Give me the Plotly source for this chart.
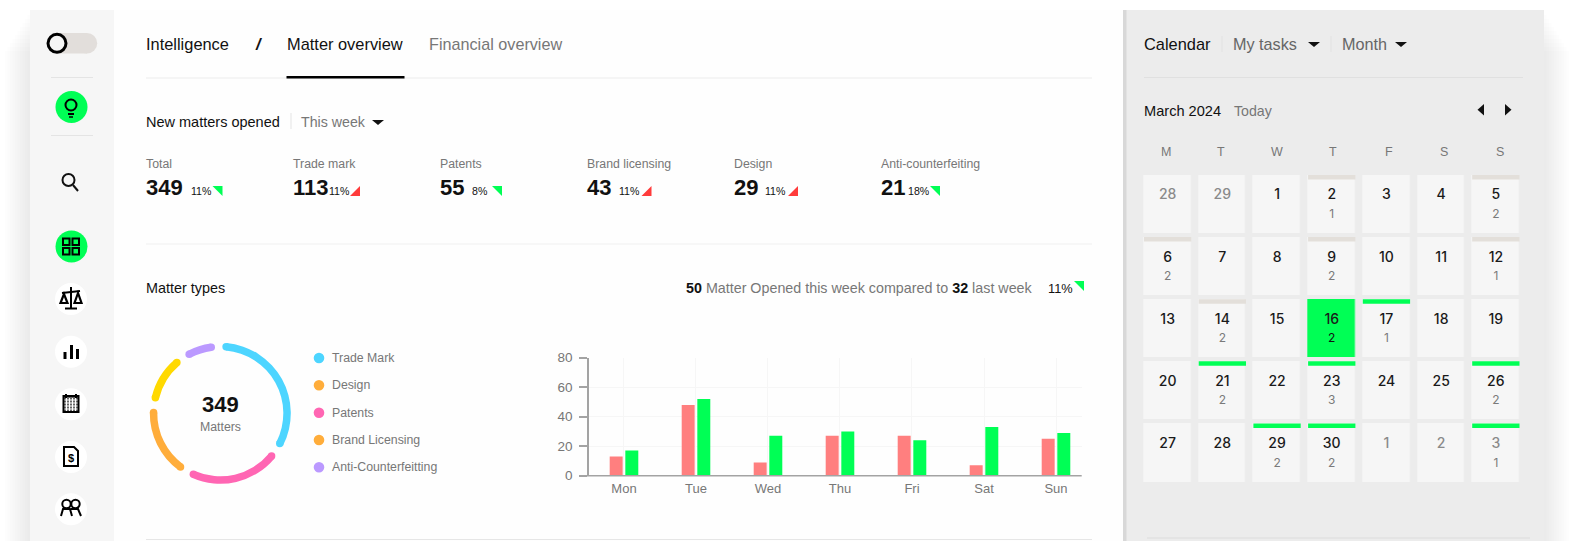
import numpy as np
import plotly.graph_objects as go

W, H = 1574, 541
FONT = "Liberation Sans"
INK, GREY, LIGHT = "#111111", "#777777", "#e8e8e8"
GREEN, RED_T, RED_B = "#00ff55", "#ff3b3b", "#ff7f7f"

# ---------- data ----------
DAYS = ["Mon", "Tue", "Wed", "Thu", "Fri", "Sat", "Sun"]
LAST_WEEK = [13, 48, 9, 27, 27, 7, 25]
THIS_WEEK = [17, 52, 27, 30, 24, 33, 29]
Y_TICKS = [0, 20, 40, 60, 80]

RING_LABELS = ["Trade Mark", "Patents", "Design", "Brand Licensing", "Anti-Counterfeitting"]
RING_VALUES = [112, 74, 54, 36, 20]
RING_COLORS = ["#4dd5ff", "#ff66b3", "#ffad3b", "#ffd900", "#bb99ff"]
RING_GAP = 12.8
RING_START = 5

LEGEND_LABELS = ["Trade Mark", "Design", "Patents", "Brand Licensing", "Anti-Counterfeitting"]
LEGEND_COLORS = ["#4dd5ff", "#ffad3b", "#ff66b3", "#ffad3b", "#bb99ff"]

KPI_LABELS = ["Total", "Trade mark", "Patents", "Brand licensing", "Design", "Anti-counterfeiting"]
KPI_VALUES = ["349", "113", "55", "43", "29", "21"]
KPI_PCTS = ["11%", "11%", "8%", "11%", "11%", "18%"]
KPI_UP = [True, False, True, False, False, True]

WEEKDAYS = ["M", "T", "W", "T", "F", "S", "S"]
CAL_DAYS = [[28, 29, 1, 2, 3, 4, 5],
            [6, 7, 8, 9, 10, 11, 12],
            [13, 14, 15, 16, 17, 18, 19],
            [20, 21, 22, 23, 24, 25, 26],
            [27, 28, 29, 30, 1, 2, 3]]
CAL_COUNTS = [[0, 0, 0, 1, 0, 0, 2],
              [2, 0, 0, 2, 0, 0, 1],
              [0, 2, 0, 2, 1, 0, 0],
              [0, 2, 0, 3, 0, 0, 2],
              [0, 0, 2, 2, 0, 0, 1]]
CAL_MUTED = [[1, 1, 0, 0, 0, 0, 0],
             [0, 0, 0, 0, 0, 0, 0],
             [0, 0, 0, 0, 0, 0, 0],
             [0, 0, 0, 0, 0, 0, 0],
             [0, 0, 0, 0, 1, 1, 1]]
CAL_TODAY = [[0, 0, 0, 0, 0, 0, 0],
             [0, 0, 0, 0, 0, 0, 0],
             [0, 0, 0, 1, 0, 0, 0],
             [0, 0, 0, 0, 0, 0, 0],
             [0, 0, 0, 0, 0, 0, 0]]
# 0 none, 1 beige strip, 2 green strip
CAL_STRIP = [[0, 0, 0, 1, 0, 0, 1],
             [1, 0, 0, 1, 0, 0, 1],
             [0, 1, 0, 0, 2, 0, 0],
             [0, 2, 0, 2, 0, 0, 2],
             [0, 0, 2, 2, 0, 0, 2]]


def px(x):
    return x / W


def py(y):
    return 1 - y / H


shapes, notes = [], []


def rect(x0, y0, x1, y1, color, opacity=1.0, layer="below"):
    shapes.append(dict(type="rect", xref="paper", yref="paper", x0=px(x0), x1=px(x1),
                       y0=py(y1), y1=py(y0), fillcolor=color, opacity=opacity,
                       line_width=0, layer=layer))


def line(x0, y0, x1, y1, color=LIGHT, width=1.0, layer="below"):
    shapes.append(dict(type="line", xref="paper", yref="paper", x0=px(x0), x1=px(x1),
                       y0=py(y0), y1=py(y1), line=dict(color=color, width=width), layer=layer))


def circle(cx, cy, r, fill, stroke=None, width=0, layer="below"):
    shapes.append(dict(type="circle", xref="paper", yref="paper", x0=px(cx - r), x1=px(cx + r),
                       y0=py(cy + r), y1=py(cy - r), fillcolor=fill,
                       line=dict(color=stroke or fill, width=width), layer=layer))


def poly(points, color, closed=True, width=0, layer="above", fill=True):
    d = "M" + " L".join(f"{px(x):.5f},{py(y):.5f}" for x, y in points) + (" Z" if closed else "")
    shapes.append(dict(type="path", xref="paper", yref="paper", path=d,
                       fillcolor=color if fill else "rgba(0,0,0,0)",
                       line=dict(color=color, width=width), layer=layer))


def text(x, y, s, size=14, color=INK, anchor="left", family=FONT):
    notes.append(dict(xref="paper", yref="paper", x=px(x), y=py(y), text=s, showarrow=False,
                      xanchor=anchor, yanchor="middle", align=anchor,
                      font=dict(family=family, size=size, color=color),
                      borderpad=0, borderwidth=0))


def caret(cx, cy, color="#111111"):
    poly([(cx - 6, cy - 2.5), (cx + 6, cy - 2.5), (cx, cy + 2.5)], color)


# ---------- page panels and soft shadows ----------
for i in range(10):
    rect(30 - 2.5 * (i + 1), 15 + i * 4, 30, H, "#000000", 0.006)
    rect(1544, 15 + i * 4, 1544 + 2.5 * (i + 1), H, "#000000", 0.006)
rect(114, 10, 1123, H, "#fefefe")
rect(30, 10, 114, H, "#f6f6f6")
rect(1123, 10, 1544, H, "#ececec")
rect(1123, 10, 1126.5, H, "#d8d8d8")

# ---------- sidebar ----------
rect(57, 33, 87, 53.5, "#e2dedb")
circle(87, 43.3, 10.2, "#e2dedb")
circle(57, 43.3, 9, "#f6f6f6", "#000000", 3)
line(51, 77.5, 93, 77.5, "#e4e4e4")
line(51, 135.5, 93, 135.5, "#e4e4e4")
circle(71.5, 107, 16, GREEN)
circle(71, 105, 5.5, "rgba(0,0,0,0)", "#000000", 2, "above")
line(68, 114, 74, 114, "#000000", 2, "above")
line(69, 117, 73, 117, "#000000", 1.5, "above")
circle(68.5, 180, 6, "rgba(0,0,0,0)", "#111111", 2, "above")
line(73, 185, 78, 191, "#111111", 2, "above")
circle(71.5, 246.5, 16, GREEN)
for dx, dy in [(-8, -8), (1.5, -8), (-8, 1.5), (1.5, 1.5)]:
    shapes.append(dict(type="rect", xref="paper", yref="paper", x0=px(71 + dx), x1=px(71 + dx + 6.5),
                       y0=py(246.5 + dy + 6.5), y1=py(246.5 + dy), fillcolor="rgba(0,0,0,0)",
                       line=dict(color="#000000", width=2), layer="above"))
for cy in [299, 351.7, 404.3, 457, 509.3]:
    circle(71, cy, 16, "#ffffff")
# scales
line(71, 287, 71, 308, "#000000", 2, "above")
line(65, 308.5, 77, 308.5, "#000000", 2, "above")
line(62, 293, 80, 291, "#000000", 2, "above")
poly([(64, 294), (60.5, 303), (67.5, 303)], "#000000", True, 2.2, fill=False)
poly([(78, 293), (74.5, 303), (81.5, 303)], "#000000", True, 2.2, fill=False)
# bars
rect(63.5, 352, 66.5, 359, "#000000", layer="above")
rect(70, 345, 73, 359, "#000000", layer="above")
rect(76, 349, 79, 359, "#000000", layer="above")
# calendar
shapes.append(dict(type="rect", xref="paper", yref="paper", x0=px(63.5), x1=px(78.5), y0=py(412), y1=py(396),
                   fillcolor="#666666", line=dict(color="#000000", width=2), layer="above"))
line(66, 394, 66, 398, "#000000", 2, "above")
line(76, 394, 76, 398, "#000000", 2, "above")
for gx in [66.5, 69.5, 72.5, 75.5]:
    line(gx, 398, gx, 411, "#ffffff", 1, "above")
for gy in [400, 403, 406, 409]:
    line(64.5, gy, 77.5, gy, "#ffffff", 1, "above")
# invoice
poly([(64, 447), (74, 447), (78, 451), (78, 466), (64, 466)], "#000000", True, 2, fill=False)
text(71, 458, "<b>$</b>", 11, "#000000", "center")
# people
circle(66.5, 504, 4.2, "rgba(0,0,0,0)", "#000000", 2, "above")
circle(75.5, 504, 4.2, "rgba(0,0,0,0)", "#000000", 2, "above")
poly([(61, 516), (63, 509), (70, 509), (72, 516)], "#000000", False, 2, fill=False)
poly([(71, 509), (78, 509), (81, 516)], "#000000", False, 2, fill=False)

# ---------- tabs ----------
text(146, 44, "Intelligence", 16.4)
text(254.5, 44, "<b><i>/</i></b>", 16.5)
text(287, 44, "Matter overview", 16.4)
text(428.5, 44, "Financial overview", 16.2, GREY)
line(146, 78, 1092, 78, "#ececec")
rect(286.5, 76, 404.5, 78.5, "#000000")
text(146, 121.5, "New matters opened", 14.5)
line(291, 113, 291, 129, "#e4e4e4")
text(301, 121.5, "This week", 14.2, GREY)
caret(378, 122.5)

# ---------- KPI row ----------
KPI_X = [146, 293, 440, 587, 734, 881]
KPI_PCT_X = [191, 328.5, 471.5, 618.5, 765, 908.5]
KPI_TRI_X = [212.5, 350, 492, 641.5, 788, 930]
for x, label, val, pct, pct_x, tri_x, up in zip(KPI_X, KPI_LABELS, KPI_VALUES, KPI_PCTS, KPI_PCT_X, KPI_TRI_X, KPI_UP):
    text(x, 164.5, label, 12.3, GREY)
    text(x, 188, f"<b>{val}</b>", 22, INK)
    text(pct_x, 191, pct, 10.6, INK)
    if up:
        poly([(tri_x, 186), (tri_x + 10, 186), (tri_x + 10, 196)], GREEN)
    else:
        poly([(tri_x, 196), (tri_x + 10, 186), (tri_x + 10, 196)], RED_T)
line(146, 244, 1092, 244, "#f0f0f0")
line(146, 539.5, 1092, 539.5, "#e6e6e6")

# ---------- matter types heading ----------
text(146, 288, "Matter types", 14.4)
text(686, 288, "<b style='color:#111'>50</b> Matter Opened this week compared to "
               "<b style='color:#111'>32</b> last week", 14.3, GREY)
text(1048, 288, "11%", 12.8, INK)
poly([(1074, 281), (1084, 281), (1084, 291)], GREEN)

# ---------- legend ----------
LEGEND_Y = [358, 385.3, 412.7, 440, 467.3]
for lab, col, y in zip(LEGEND_LABELS, LEGEND_COLORS, LEGEND_Y):
    circle(319, y, 5.3, col)
    text(332, y, lab, 12.3, GREY)

# ---------- ring ----------
fig = go.Figure()
R_CX, R_CY, R_OUT, R_W = 220.3, 413.3, 70.5, 7.5
ring_dom_x = [px(R_CX - R_OUT), px(R_CX + R_OUT)]
ring_dom_y = [py(R_CY + R_OUT), py(R_CY - R_OUT)]
pie_vals, pie_cols, pie_labs = [], [], []
for lab, val, col in zip(RING_LABELS, RING_VALUES, RING_COLORS):
    pie_vals += [val, RING_GAP]
    pie_cols += [col, "rgba(0,0,0,0)"]
    pie_labs += [lab, lab + " gap"]
fig.add_trace(go.Pie(values=pie_vals, labels=pie_labs, sort=False, direction="clockwise",
                     rotation=RING_START, hole=1 - R_W / R_OUT, textinfo="none", showlegend=False,
                     hoverinfo="skip", marker=dict(colors=pie_cols, line=dict(width=0)),
                     domain=dict(x=ring_dom_x, y=ring_dom_y)))
# rounded ends of each arc, placed from the same values
angle = RING_START
cap_theta, cap_cols = [], []
for val, col in zip(RING_VALUES, RING_COLORS):
    cap_theta += [angle, angle + val]
    cap_cols += [col, col]
    angle += val + RING_GAP
fig.add_trace(go.Scatterpolar(r=[1 - R_W / 2 / R_OUT] * len(cap_theta), theta=cap_theta, mode="markers",
                              marker=dict(size=R_W, color=cap_cols, line_width=0),
                              showlegend=False, hoverinfo="skip", subplot="polar"))
text(R_CX, 404.5, "<b>349</b>", 22, INK, "center")
text(R_CX, 427, "Matters", 12.3, GREY, "center")

# ---------- bars ----------
fig.add_trace(go.Bar(x=DAYS, y=LAST_WEEK, marker=dict(color=RED_B, line_width=0), showlegend=False, xaxis="x", yaxis="y"))
fig.add_trace(go.Bar(x=DAYS, y=THIS_WEEK, marker=dict(color=GREEN, line_width=0), showlegend=False, xaxis="x", yaxis="y"))

# ---------- calendar ----------
cols = list(range(7))
rows = list(range(5))
fig.add_trace(go.Heatmap(z=CAL_TODAY, x=cols, y=rows, xgap=7.4, ygap=4, showscale=False, zmin=0, zmax=1,
                         colorscale=[[0, "#f6f6f6"], [1, GREEN]], hoverinfo="skip", xaxis="x2", yaxis="y2"))
day_x, day_y, day_t, day_c = [], [], [], []
cnt_x, cnt_y, cnt_t, cnt_c = [], [], [], []
for r in rows:
    for c in cols:
        muted = CAL_MUTED[r][c]
        day_x.append(c)
        day_y.append(r - 0.13)
        day_t.append(str(CAL_DAYS[r][c]))
        day_c.append("#8a8a8a" if muted else "#1a1a1a")
        if CAL_COUNTS[r][c]:
            cnt_x.append(c)
            cnt_y.append(r + 0.18)
            cnt_t.append(str(CAL_COUNTS[r][c]))
            cnt_c.append("#111111" if CAL_TODAY[r][c] else "#7a7a7a")
fig.add_trace(go.Scatter(x=day_x, y=day_y, text=day_t, mode="text", textposition="middle center",
                         textfont=dict(family="Inter", size=14, color=day_c, weight=500),
                         showlegend=False, hoverinfo="skip", xaxis="x2", yaxis="y2"))
fig.add_trace(go.Scatter(x=cnt_x, y=cnt_y, text=cnt_t, mode="text", textposition="middle center",
                         textfont=dict(family="Inter", size=12, color=cnt_c),
                         showlegend=False, hoverinfo="skip", xaxis="x2", yaxis="y2"))
half_w = 23.65 / 54.7
half_h = 29 / 62.1
for r in rows:
    for c in cols:
        s = CAL_STRIP[r][c]
        if s:
            shapes.append(dict(type="rect", xref="x2", yref="y2", x0=c - half_w, x1=c + half_w,
                               y0=r - half_h, y1=r - half_h + 4.5 / 62.1,
                               fillcolor="#e3dfda" if s == 1 else GREEN, line_width=0, layer="above"))

text(1144.3, 44, "Calendar", 16.4)
line(1222, 36, 1222, 52, "#e2e2e2")
text(1233, 44, "My tasks", 16.2, "#666666")
caret(1314, 44.5)
line(1331, 36, 1331, 52, "#e2e2e2")
text(1342, 44, "Month", 16.2, "#666666")
caret(1401, 44.5)
line(1144, 77.5, 1523, 77.5, "#e0e0e0")
text(1144.3, 111, "March 2024", 14.6)
text(1234, 111, "Today", 14.2, GREY)
poly([(1484, 104), (1484, 115.5), (1477.5, 109.7)], "#111111")
poly([(1505, 104), (1505, 115.5), (1511.5, 109.7)], "#111111")
for cx, d in zip([1166, 1221, 1277, 1332.7, 1388.7, 1444, 1499.7], WEEKDAYS):
    text(cx, 152, d, 12.5, GREY, "center")
line(1147, 538, 1530, 538, "#dcdcdc")

# baseline of the bar chart, spanning tick to right edge
line(581, 475.7, 1081.7, 475.7, "#a3a3a3", 1.5, "above")

fig.update_layout(
    width=W, height=H, autosize=False, margin=dict(l=0, r=0, t=0, b=0, pad=0, autoexpand=False),
    paper_bgcolor="#ffffff", plot_bgcolor="rgba(0,0,0,0)",
    shapes=shapes, annotations=notes, font=dict(family=FONT),
    barmode="group", bargap=0.566, bargroupgap=0.17,
    polar=dict(domain=dict(x=ring_dom_x, y=ring_dom_y), bgcolor="rgba(0,0,0,0)",
               radialaxis=dict(visible=False, range=[0, 1]),
               angularaxis=dict(visible=False, rotation=90, direction="clockwise")),
    xaxis=dict(domain=[px(589), px(1081.7)], range=[-0.486, 6.357], type="category",
               categoryorder="array", categoryarray=DAYS, showgrid=True, gridcolor="#f6f6f6", gridwidth=1,
               showline=False, zeroline=False, ticks="", tickfont=dict(size=13, color=GREY, family=FONT),
               ticklabelstandoff=3, fixedrange=True),
    yaxis=dict(domain=[py(475.7), py(357.7)], range=[0, 80], tickvals=Y_TICKS, showgrid=True,
               gridcolor="#f6f6f6", gridwidth=1, zeroline=False, showline=True, linecolor="#a3a3a3", linewidth=1.5,
               ticks="outside", ticklen=8, tickcolor="#a3a3a3", tickwidth=1.5, ticklabelstandoff=4,
               tickfont=dict(size=13.5, color=GREY, family=FONT), fixedrange=True),
    xaxis2=dict(domain=[px(1140.3), px(1523.2)], range=[-0.5, 6.5], visible=False, fixedrange=True),
    yaxis2=dict(domain=[py(483.45), py(172.95)], range=[4.5, -0.5], visible=False, fixedrange=True),
)
fig.write_html("out.html", config=dict(displayModeBar=False),
               post_script="document.body.style.margin='0';document.body.style.overflow='hidden';")
